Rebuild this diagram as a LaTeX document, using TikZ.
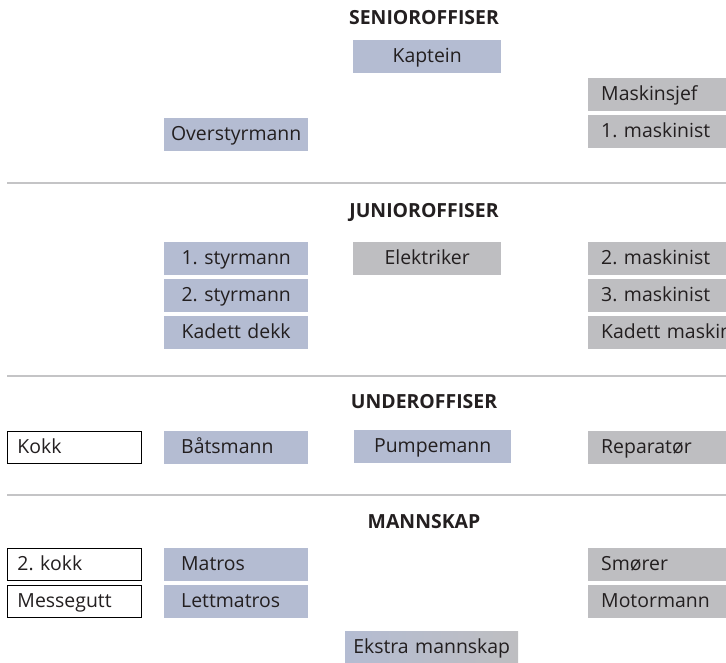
\documentclass[tikz,border=0pt]{standalone}
\usepackage{fontspec}
\setmainfont{Open Sans}
\frenchspacing
\definecolor{bx}{RGB}{180,188,210}
\definecolor{gx}{RGB}{190,190,193}
\definecolor{tx}{RGB}{35,31,32}
\definecolor{sepc}{RGB}{196,196,198}
\tikzset{
  box/.style={anchor=north west, minimum height=33bp, inner ysep=0pt, text=tx,
    font=\fontsize{19.5}{21}\selectfont, text height=13.5bp, text depth=2.5bp},
  bl/.style={box, fill=bx},
  gr/.style={box, fill=gx},
  wh/.style={box, draw=black, line width=1pt, fill=white, minimum height=32bp},
  cw/.style={text width=#1, align=center, inner xsep=0pt},
  lw/.style 2 args={text width=#1, align=left, inner xsep=#2},
  ttl/.style={text=tx, font=\fontsize{19.5}{21}\selectfont\bfseries, anchor=center},
  sepline/.style={draw=sepc, line width=2bp}
}
\begin{document}
\begin{tikzpicture}[x=1bp,y=-1bp]
\useasboundingbox (0,0) rectangle (726,663);
\clip (0,0) rectangle (726,663);
% section titles
\node[ttl] (tsen) at (424,18) {SENIOROFFISER};
\node[ttl] (tjun) at (424,212) {JUNIOROFFISER};
\node[ttl] (tund) at (424,402) {UNDEROFFISER};
\node[ttl] (tman) at (424,522) {MANNSKAP};
% separators
\coordinate (s1a) at (7,183); \coordinate (s1b) at (726,183);
\coordinate (s2a) at (7,376); \coordinate (s2b) at (726,376);
\coordinate (s3a) at (7,495); \coordinate (s3b) at (726,495);
\draw[sepline] (s1a) -- (s1b);
\draw[sepline] (s2a) -- (s2b);
\draw[sepline] (s3a) -- (s3b);
% senior
\node[bl, cw=148bp] (kap) at (353,40) {Kaptein};
\node[gr, lw={118bp}{13bp}] (msj) at (588,78) {Maskinsjef};
\node[bl, cw=144bp] (ovs) at (164,118) {Overstyrmann};
\node[gr, lw={118bp}{13bp}] (m1) at (588,115) {1. maskinist};
% junior
\node[bl, cw=144bp] (st1) at (164,242) {1. styrmann};
\node[gr, cw=148bp] (ele) at (353,242) {Elektriker};
\node[gr, lw={118bp}{13bp}] (m2) at (588,242) {2. maskinist};
\node[bl, cw=144bp] (st2) at (164,279) {2. styrmann};
\node[gr, lw={118bp}{13bp}] (m3) at (588,279) {3. maskinist};
\node[bl, cw=144bp] (kdd) at (164,316) {Kadett dekk};
\node[gr, lw={170bp}{13bp}] (kdm) at (588,316) {Kadett maskinist};
% under
\node[wh, lw={114bp}{10bp}] (kok) at (7,431) {Kokk};
\node[bl, lw={110bp}{17bp}] (bat) at (164,431) {Båtsmann};
\node[bl, cw=157bp] (pum) at (354,430) {Pumpemann};
\node[gr, lw={118bp}{13bp}] (rep) at (588,431) {Reparatør};
% mannskap
\node[wh, lw={114bp}{10bp}] (kk2) at (7,548) {2. kokk};
\node[bl, lw={110bp}{17bp}] (mat) at (164,548) {Matros};
\node[gr, lw={118bp}{13bp}] (smo) at (588,548) {Smører};
\node[wh, lw={114bp}{10bp}] (mes) at (7,585) {Messegutt};
\node[bl, lw={110bp}{17bp}] (let) at (164,585) {Lettmatros};
\node[gr, lw={118bp}{13bp}] (mot) at (588,585) {Motormann};
\node[box, cw=173bp, left color=bx, right color=gx] (eks) at (345,631) {Ekstra mannskap};
\end{tikzpicture}
\end{document}
